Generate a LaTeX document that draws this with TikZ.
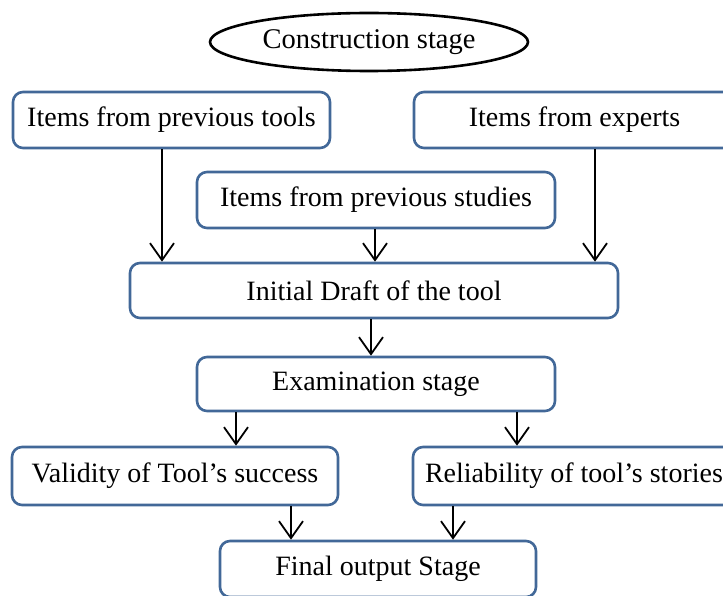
\documentclass[tikz,border=0pt]{standalone}
\usepackage{fontspec}
\setmainfont{Liberation Serif}
\usetikzlibrary{arrows.meta,shapes.geometric}
\definecolor{boxblue}{RGB}{66,104,152}
\tikzset{
every picture/.style={
line width=2pt
},
stagebox/.style={draw=boxblue, line width=2.6pt, rounded corners=10pt, fill=white, inner sep=0pt, font=\fontsize{28}{32}\selectfont},
arr/.style={-{Straight Barb[length=17pt,width=24pt]}, line width=1.8pt}
}

\begin{document}
\begin{tikzpicture}[x=1pt, y=-1pt]
  \useasboundingbox (0,0) rectangle (723,596);

  \node (cons) [draw, ellipse, line width=2.6pt, minimum width=318pt, minimum height=58pt, inner sep=0pt, font=\fontsize{28.5}{32}\selectfont] at (369,42) {Construction stage};

  \node (tools) [stagebox, minimum width=317pt, minimum height=56pt] at (171.5,120) {Items from previous tools};
  \node (experts) [stagebox, minimum width=321pt, minimum height=56pt] at (574.5,120) {Items from experts};
  \node (studies) [stagebox, minimum width=358pt, minimum height=56pt] at (376,200) {Items from previous studies};

  \node (draft) [stagebox, minimum width=488pt, minimum height=55pt] at (374,290.5) {Initial Draft of the tool};
  \node (exam) [stagebox, minimum width=358pt, minimum height=54pt] at (376,384) {Examination stage};

  \node (valid) [stagebox, minimum width=326pt, minimum height=58pt] at (175,476) {Validity of Tool's success};
  \node (relia) [stagebox, minimum width=322pt, minimum height=58pt] at (574,476) {Reliability of tool's stories};

  \node (final) [stagebox, minimum width=316pt, minimum height=56pt] at (378,569) {Final output Stage};

  \draw [arr] ([xshift=-9.5pt]tools.south) -- ([xshift=-9.5pt]tools.south |- draft.north);
  \draw [arr] ([xshift=-1pt]studies.south) -- ([xshift=-1pt]studies.south |- draft.north);
  \draw [arr] ([xshift=20.5pt]experts.south) -- ([xshift=20.5pt]experts.south |- draft.north);

  \draw [arr] ([xshift=-3pt]draft.south) -- ([xshift=-3pt]draft.south |- exam.north);

  \draw [arr] ([xshift=-140pt]exam.south) -- ([xshift=-140pt]exam.south |- valid.north);
  \draw [arr] ([xshift=141pt]exam.south) -- ([xshift=141pt]exam.south |- relia.north);

  \draw [arr] ([xshift=116pt]valid.south) -- ([xshift=116pt]valid.south |- final.north);
  \draw [arr] ([xshift=-121pt]relia.south) -- ([xshift=-121pt]relia.south |- final.north);

\end{tikzpicture}
\end{document}
